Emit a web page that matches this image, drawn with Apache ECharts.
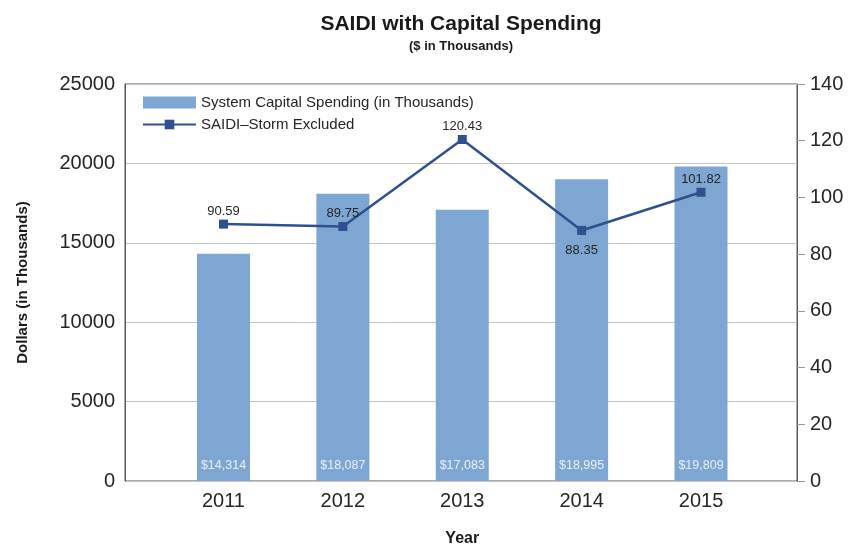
<!DOCTYPE html>
<html>
<head>
<meta charset="utf-8">
<script src="https://cdn.jsdelivr.net/npm/echarts@6/dist/echarts.min.js"></script>
<style>
  html, body { margin: 0; padding: 0; background: #fff; }
  #chart { width: 857px; height: 548px; }
</style>
</head>
<body>
<div id="chart"></div>
<script>
// Years on the category axis
const years = ['2011', '2012', '2013', '2014', '2015'];
// Capital spending, $ thousands
const capitalSpending = [14314, 18087, 17083, 18995, 19809];
// SAIDI, storm days excluded
const saidi = [90.59, 89.75, 120.43, 88.35, 101.82];
// Axis ranges
const dollarAxis = { min: 0, max: 25000, interval: 5000 };
const saidiAxis = { min: 0, max: 140, interval: 20 };

const FONT = "'Liberation Sans', Arial, Helvetica, sans-serif";
const TEXT = '#262626';

const chart = echarts.init(document.getElementById('chart'), null, { renderer: 'canvas' });

chart.setOption({
  animation: false,
  backgroundColor: '#ffffff',
  textStyle: { fontFamily: FONT },
  title: [
    {
      text: 'SAIDI with Capital Spending',
      left: 456, top: 9, textAlign: 'center',
      textStyle: { fontFamily: FONT, fontSize: 21, fontWeight: 'bold', color: '#1a1a1a' }
    },
    {
      text: '($ in Thousands)',
      left: 456, top: 35, textAlign: 'center',
      textStyle: { fontFamily: FONT, fontSize: 13, fontWeight: 'bold', color: '#1a1a1a' }
    }
  ],
  legend: {
    orient: 'vertical',
    left: 137, top: 90,
    itemWidth: 53, itemHeight: 12, itemGap: 7,
    textStyle: { fontFamily: FONT, fontSize: 15, color: TEXT },
    data: [
      { name: 'System Capital Spending (in Thousands)', icon: 'rect' },
      { name: 'SAIDI\u2013Storm Excluded' }
    ]
  },
  grid: [
    { left: 125, right: 60, top: 84, bottom: 67, show: true, borderColor: '#555', borderWidth: 1, outerBoundsMode: 'none', containLabel: false },
    { left: 163.8, right: 96.3, top: 84, bottom: 67, outerBoundsMode: 'none', containLabel: false }
  ],
  xAxis: [
    { gridIndex: 0, type: 'category', data: years, show: false },
    {
      gridIndex: 1, type: 'category', data: years,
      axisLine: { show: false }, axisTick: { show: false },
      axisLabel: { fontFamily: FONT, fontSize: 20, color: TEXT, margin: 10 },
      name: 'Year', nameLocation: 'middle', nameGap: 50,
      nameTextStyle: { fontFamily: FONT, fontSize: 16, fontWeight: 'bold', color: '#1a1a1a' }
    }
  ],
  yAxis: [
    {
      gridIndex: 0, type: 'value', position: 'left',
      min: dollarAxis.min, max: dollarAxis.max, interval: dollarAxis.interval,
      axisLine: { show: true, lineStyle: { color: '#555' } },
      axisTick: { show: false },
      splitLine: { show: true, lineStyle: { color: '#c4c4c4', width: 1 } },
      axisLabel: { fontFamily: FONT, fontSize: 20, color: TEXT, margin: 10, formatter: v => String(v) },
      name: 'Dollars (in Thousands)', nameLocation: 'middle', nameGap: 95,
      nameTextStyle: { fontFamily: FONT, fontSize: 15, fontWeight: 'bold', color: '#1a1a1a' }
    },
    {
      gridIndex: 0, type: 'value', position: 'right',
      min: saidiAxis.min, max: saidiAxis.max, interval: saidiAxis.interval,
      axisLine: { show: true, lineStyle: { color: '#555' } },
      axisTick: { show: true, length: 8, lineStyle: { color: '#999' } },
      splitLine: { show: false },
      axisLabel: { fontFamily: FONT, fontSize: 20, color: TEXT, margin: 13 }
    },
    {
      gridIndex: 1, type: 'value', show: false,
      min: dollarAxis.min, max: dollarAxis.max, splitLine: { show: false }
    },
    {
      gridIndex: 1, type: 'value', show: false,
      min: saidiAxis.min, max: saidiAxis.max, splitLine: { show: false }
    }
  ],
  series: [
    {
      name: 'System Capital Spending (in Thousands)',
      type: 'bar', xAxisIndex: 1, yAxisIndex: 2,
      data: capitalSpending,
      barWidth: 53,
      itemStyle: { color: '#7ea6d2' },
      label: {
        show: true, position: 'insideBottom', distance: 9,
        fontFamily: FONT, fontSize: 12.5, color: '#e9f0f9',
        formatter: p => '$' + p.value.toLocaleString('en-US')
      },
      z: 2
    },
    {
      name: 'SAIDI\u2013Storm Excluded',
      type: 'line', xAxisIndex: 1, yAxisIndex: 3,
      data: saidi.map((v, i) => ({
        value: v,
        label: { position: i === 3 ? 'bottom' : 'top', distance: i === 3 ? 9 : 2 }
      })),
      symbol: 'rect', symbolSize: 9,
      lineStyle: { color: '#2f4f8f', width: 2.5 },
      itemStyle: { color: '#2f4f8f' },
      label: {
        show: true, fontFamily: FONT, fontSize: 13, color: TEXT,
        formatter: p => p.value.toFixed(2)
      },
      z: 3
    }
  ]
});
</script>
</body>
</html>
